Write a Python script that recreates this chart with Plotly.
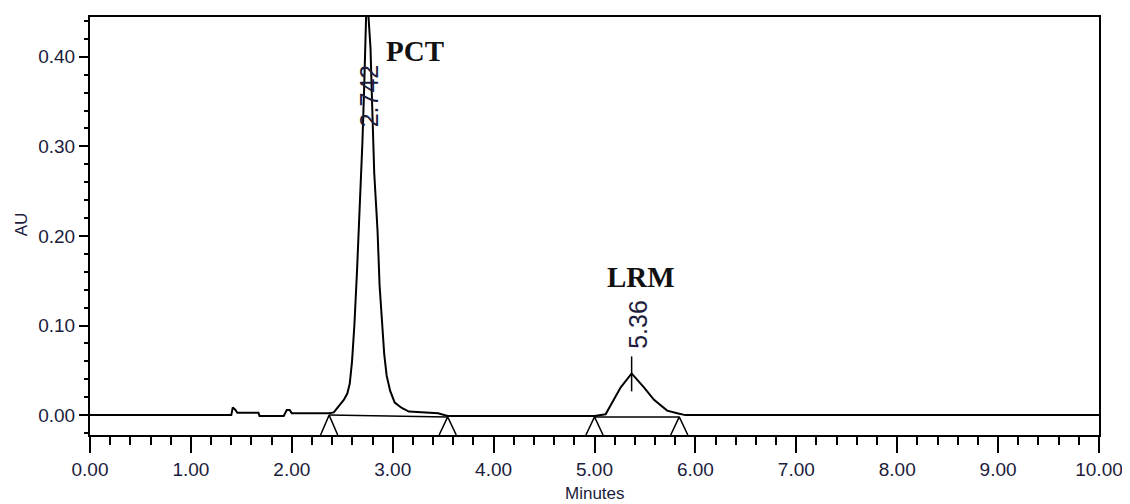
import plotly.graph_objects as go

# ---- data ----
time_min = [0.00, 1.40, 1.415, 1.44, 1.46, 1.67, 1.68, 1.92, 1.95, 1.98, 2.00, 2.30, 2.37,
            2.416, 2.466, 2.515, 2.55, 2.574, 2.597, 2.62, 2.646, 2.68, 2.70, 2.717, 2.73,
            2.745, 2.76, 2.78, 2.794, 2.805, 2.817, 2.835, 2.85, 2.87, 2.893, 2.916, 2.94,
            2.975, 3.02, 3.09, 3.16, 3.30, 3.45, 3.545, 3.60, 5.00, 5.11, 5.18, 5.26, 5.368,
            5.49, 5.59, 5.72, 5.82, 5.90, 10.00]
absorbance = [0.000, 0.000, 0.0085, 0.006, 0.0026, 0.0026, -0.001, -0.001, 0.0056, 0.0056, 0.002, 0.002, 0.002,
              0.003, 0.010, 0.017, 0.024, 0.035, 0.060, 0.100, 0.160, 0.245, 0.305, 0.365, 0.420,
              0.480, 0.445, 0.410, 0.355, 0.305, 0.270, 0.235, 0.205, 0.145, 0.100, 0.068, 0.044,
              0.027, 0.014, 0.008, 0.004, 0.003, 0.002, -0.001, -0.001, -0.001, 0.001, 0.015, 0.031, 0.0465,
              0.031, 0.017, 0.005, 0.002, 0.000, 0.000]

# integration start/end markers
marker_times = [2.37, 3.545, 5.00, 5.84]
marker_levels = [0.000, -0.002, -0.002, -0.002]

# peak apex (retention time) data
apex_times = [2.745, 5.368]
apex_heights = [0.480, 0.0465]
peak_names = ["PCT", "LRM"]
rt_labels = ["2.742", "5.36"]

x_range = [0.0, 10.0]
y_range = [-0.0222, 0.4444]

fig = go.Figure()

fig.add_trace(go.Scatter(x=time_min, y=absorbance, mode="lines",
                         line=dict(color="black", width=2), hoverinfo="skip"))

# integration baselines (between start/end markers)
bx, by = [], []
for i in range(0, len(marker_times), 2):
    bx += [marker_times[i], marker_times[i + 1], None]
    by += [marker_levels[i], marker_levels[i + 1], None]
fig.add_trace(go.Scatter(x=bx, y=by, mode="lines", line=dict(color="black", width=1.5),
                         hoverinfo="skip"))

# triangle markers
half_w = 0.085
mx, my = [], []
for t, lv in zip(marker_times, marker_levels):
    mx += [t - half_w, t, t + half_w, None]
    my += [y_range[0], lv, y_range[0], None]
fig.add_trace(go.Scatter(x=mx, y=my, mode="lines", line=dict(color="black", width=1.5),
                         hoverinfo="skip"))

# apex ticks
tx, ty = [], []
for t, h in zip(apex_times, apex_heights):
    tx += [t, t, None]
    ty += [h - 0.020, h + 0.019, None]
fig.add_trace(go.Scatter(x=tx, y=ty, mode="lines", line=dict(color="black", width=1.5),
                         hoverinfo="skip"))

tick_font = dict(family="Liberation Sans, Arial, sans-serif", size=19, color="#1c1c3c")
name_font = dict(family="Liberation Serif, Times New Roman, serif", size=29, color="#111111",
                 weight="bold")
rt_font = dict(family="Liberation Sans, Arial, sans-serif", size=25, color="#1c1c3c")

annotations = [
    dict(x=3.225, y=0.407, text=peak_names[0], font=name_font),
    dict(x=5.46, y=0.154, text=peak_names[1], font=name_font),
    dict(x=apex_times[0] + 0.02, y=0.357, text=rt_labels[0], font=rt_font, textangle=-90),
    dict(x=apex_times[1] + 0.055, y=0.101, text=rt_labels[1], font=rt_font, textangle=-90),
]
for a in annotations:
    a.update(xref="x", yref="y", showarrow=False, xanchor="center", yanchor="middle")

annotations.append(dict(x=0.5, y=-0.112, xref="paper", yref="paper", text="Minutes",
                        showarrow=False, xanchor="center", yanchor="top",
                        font=dict(family="Liberation Sans, Arial, sans-serif", size=17, color="#1c1c3c")))
annotations.append(dict(x=-0.067, y=0.505, xref="paper", yref="paper", text="AU",
                        showarrow=False, xanchor="center", yanchor="middle", textangle=-90,
                        font=dict(family="Liberation Sans, Arial, sans-serif", size=17, color="#1c1c3c")))

# the page body adds an 8 px offset; size the figure so the plot area lands where the reference has it
fig.update_layout(
    width=1122, height=496,
    margin=dict(l=82, r=25, t=7, b=69),
    paper_bgcolor="white", plot_bgcolor="white",
    showlegend=False,
    annotations=annotations,
    xaxis=dict(range=x_range, dtick=1, tick0=0, tickformat=".2f", showgrid=False, zeroline=False,
               showline=True, linewidth=2, linecolor="black", mirror=True,
               ticks="outside", ticklen=16, tickwidth=2, tickcolor="black",
               tickfont=tick_font, ticklabelstandoff=0,
               minor=dict(dtick=0.2, tick0=0, ticks="outside", ticklen=8, tickwidth=2,
                          tickcolor="black", showgrid=False)),
    yaxis=dict(range=y_range, dtick=0.1, tick0=0, tickformat=".2f", showgrid=False, zeroline=False,
               showline=True, linewidth=2, linecolor="black", mirror=True,
               ticks="outside", ticklen=9, tickwidth=2, tickcolor="black",
               tickfont=tick_font,
               minor=dict(dtick=0.02, tick0=0, ticks="outside", ticklen=4.5, tickwidth=2,
                          tickcolor="black", showgrid=False)),
)

fig.write_html("out.html")
